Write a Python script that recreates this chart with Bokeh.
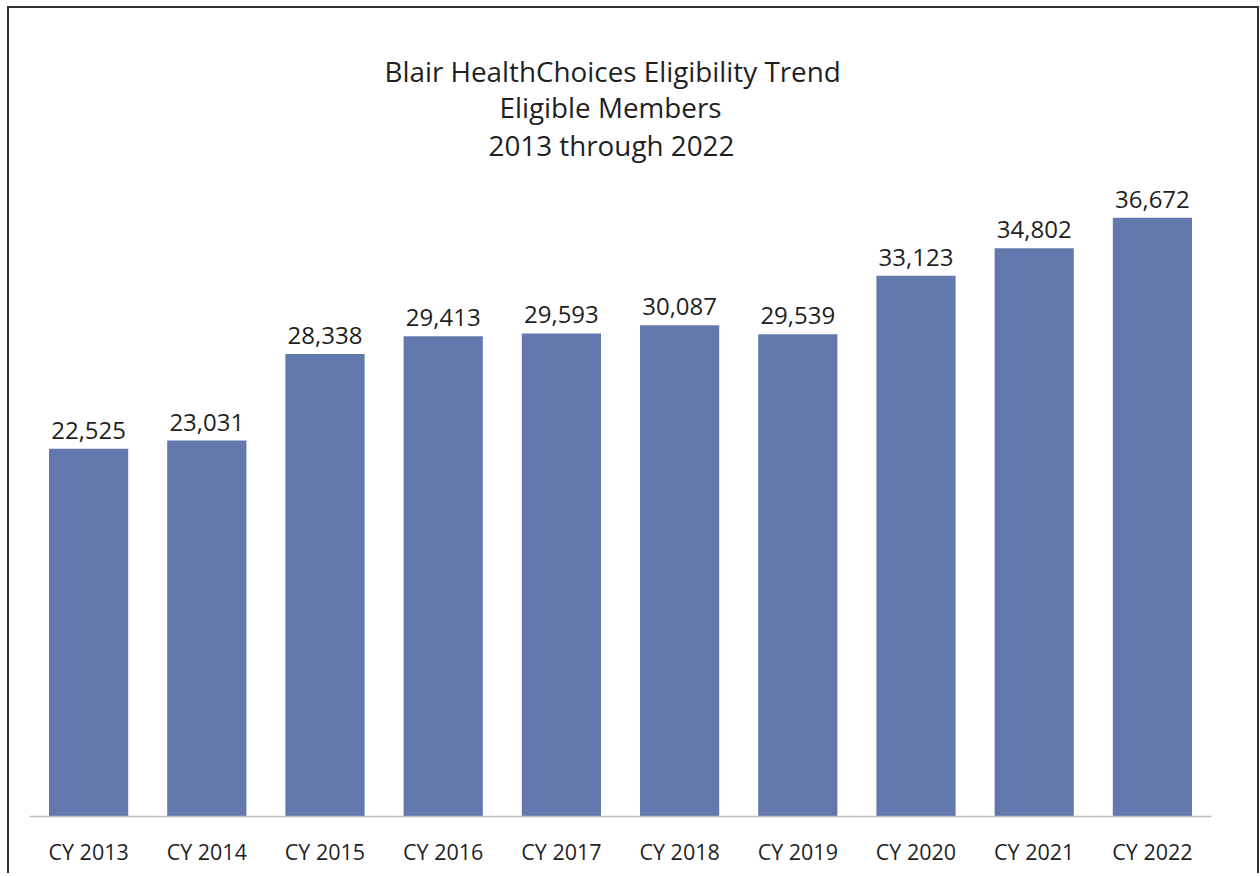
from bokeh.plotting import figure
from bokeh.models import ColumnDataSource, LabelSet, Title, Range1d
from bokeh.core.properties import value
from bokeh.embed import file_html
from bokeh.resources import INLINE

categories = ["CY 2013", "CY 2014", "CY 2015", "CY 2016", "CY 2017",
              "CY 2018", "CY 2019", "CY 2020", "CY 2021", "CY 2022"]
members = [22525, 23031, 28338, 29413, 29593, 30087, 29539, 33123, 34802, 36672]
value_labels = [f"{v:,}" for v in members]
title_lines = ["Blair HealthChoices Eligibility Trend",
               "Eligible Members",
               "2013 through 2022"]
title_offsets = [355, 470, 459]
title_standoffs = [-3, -5, 0]

FONT = "Open Sans"
src = ColumnDataSource(dict(cat=categories, val=members, lab=value_labels))

p = figure(x_range=categories, y_range=Range1d(0, 40000),
           width=1252, height=870, output_backend="svg", toolbar_location=None,
           min_border_left=22, min_border_right=48, min_border_bottom=60,
           min_border_top=157)
p.styles = {"margin-left": "7px", "margin-top": "6px",
            "outline": "2px solid #2e2e2e", "outline-offset": "-2px",
            "clip-path": "inset(0px 0px 3px 0px)"}
p.border_fill_color = None
p.background_fill_color = None

lines = list(zip(title_lines, title_offsets, title_standoffs))
for line, off, so in reversed(lines):
    t = Title(text=line, align="left", offset=off, text_font=FONT,
              text_font_size="27.8px", text_font_style="normal", text_color="#1f1f1f",
              standoff=so)
    p.add_layout(t, "above")

p.vbar(x="cat", top="val", width=0.67, source=src, color="#6378AC", line_color=None)

labels = LabelSet(x="cat", y="val", text="lab", source=src, y_offset=10,
                  text_align="center", text_baseline="alphabetic",
                  text_font=value(FONT), text_font_size="24px", text_color="#1f1f1f")
p.add_layout(labels)

p.yaxis.visible = False
p.xgrid.grid_line_color = None
p.ygrid.grid_line_color = None
p.outline_line_color = None
p.xaxis.axis_line_color = "#BFBFBF"
p.xaxis.axis_line_width = 1.5
p.xaxis.major_tick_line_color = None
p.xaxis.minor_tick_line_color = None
p.xaxis.major_label_standoff = 14
p.xaxis.major_label_text_font = FONT
p.xaxis.major_label_text_font_size = "21.5px"
p.xaxis.major_label_text_color = "#1f1f1f"
p.x_range.range_padding = 0.0

open("out.html", "w").write(file_html(p, INLINE))
